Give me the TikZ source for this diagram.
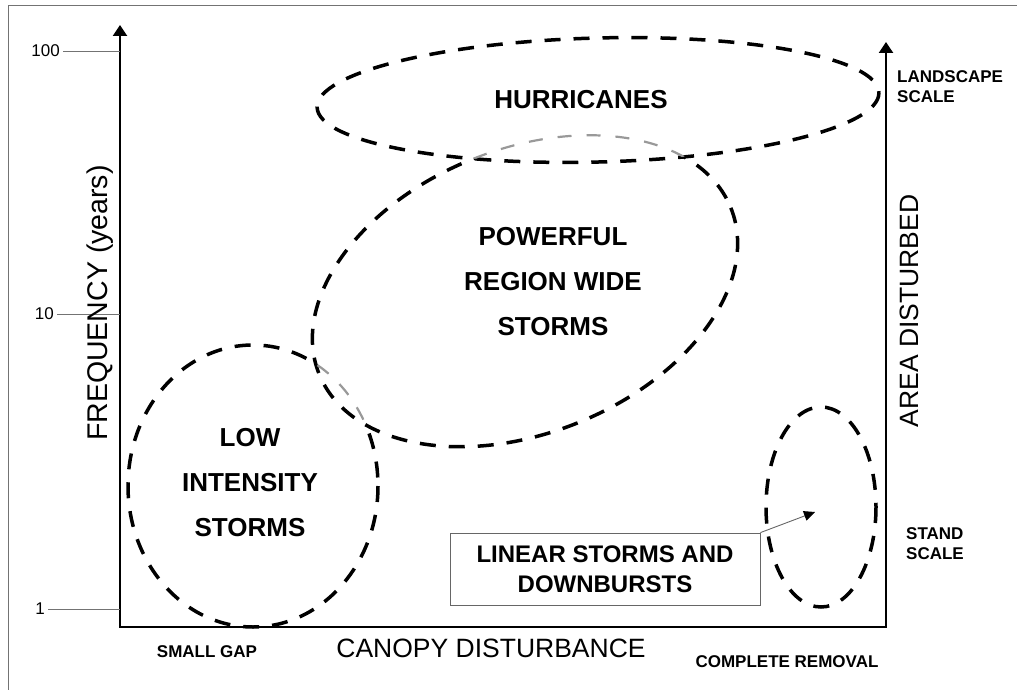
\documentclass[tikz,border=0pt]{standalone}
\usepackage{fontspec}
\setmainfont{Liberation Sans}
\usetikzlibrary{arrows.meta}

\tikzset{
  zone/.style={line width=3.5pt, dash pattern=on 16pt off 13pt},
  faded/.style={line width=2.2pt, dash pattern=on 14pt off 15pt, black!40},
  axis/.style={line width=2.4pt, line join=miter},
  tick/.style={black!55, line width=0.8pt},
  big/.style={font=\fontsize{26}{45}\selectfont\bfseries, align=center},
  small/.style={font=\fontsize{17}{20}\selectfont\bfseries, align=left, inner sep=0pt},
  axlabel/.style={font=\fontsize{26.5}{30}\selectfont},
  numlabel/.style={font=\fontsize{17}{18}\selectfont, anchor=east, inner sep=3pt},
  legendbox/.style={draw=black!60, line width=0.8pt, minimum width=310pt,
    minimum height=72pt, inner sep=0pt, align=center,
    font=\fontsize{24}{30}\selectfont\bfseries},
  pointer/.style={black!60, line width=0.9pt, -{Triangle[length=11pt, width=10pt, color=black]}}
}

\begin{document}
\begin{tikzpicture}[x=1pt, y=-1pt]
  % Parameters (pixel coordinates, y downward)
  \def\hx{598} \def\hy{100}  % hurricanes centre
  \def\px{525} \def\py{291}  % powerful storms centre
  \def\lx{253} \def\ly{486}  % low intensity centre
  \useasboundingbox (0,0) rectangle (1017,690);
  % Frame
  \draw[black!55, line width=0.8pt] (8,690) -- (8,5) -- (1017,5);
  % Axes
  \coordinate (origin) at (120,627);
  \coordinate (ytip) at (120,25);
  \coordinate (xend) at (886,627);
  \coordinate (rtip) at (886,42);
  \draw[axis, {Triangle[length=11pt, width=14pt]}-{Triangle[length=11pt, width=14pt]}]
    (ytip) -- (origin) -- (xend) -- (rtip);
  % Ticks
  \node[numlabel] (t100) at (63,51) {100};
  \node[numlabel] (t10) at (57,314) {10};
  \node[numlabel] (t1) at (48,609) {1};
  \draw[tick] (t100.east) -- (t100.east -| origin);
  \draw[tick] (t10.east) -- (t10.east -| origin);
  \draw[tick] (t1.east) -- (t1.east -| origin);
  % Hurricanes
  \draw[zone, rotate around={1.5:(\hx,\hy)}] (\hx,\hy) ellipse [x radius=281, y radius=62];
  % Powerful storms, faded where inside the hurricanes
  \begin{scope}
    \clip[rotate around={1.5:(\hx,\hy)}] (\hx,\hy) ellipse [x radius=281, y radius=62];
    \draw[faded, rotate around={22:(\px,\py)}] (\px,\py) ellipse [x radius=222, y radius=142];
  \end{scope}
  \begin{scope}[even odd rule]
    \clip[rotate around={1.5:(\hx,\hy)}] (-600,-600) rectangle (1700,1400)
      (\hx,\hy) ellipse [x radius=281, y radius=62];
    \draw[zone, rotate around={22:(\px,\py)}] (\px,\py) ellipse [x radius=222, y radius=142];
  \end{scope}
  % Low intensity storms, faded where inside the powerful storms
  \begin{scope}
    \clip[rotate around={22:(\px,\py)}] (\px,\py) ellipse [x radius=222, y radius=142];
    \draw[faded] (\lx,\ly) ellipse [x radius=125, y radius=141];
  \end{scope}
  \begin{scope}[even odd rule]
    \clip[rotate around={22:(\px,\py)}] (-600,-600) rectangle (1700,1400)
      (\px,\py) ellipse [x radius=222, y radius=142];
    \draw[zone] (\lx,\ly) ellipse [x radius=125, y radius=141];
  \end{scope}
  % Stand scale
  \draw[zone] (821,507) ellipse [x radius=55, y radius=100];
  % Zone labels
  \node[big] (hurr) at (581,100) {HURRICANES};
  \node[big] (power) at (553,282) {POWERFUL\\REGION WIDE\\STORMS};
  \node[big] (low) at (250,483) {LOW\\INTENSITY\\STORMS};
  \node[legendbox] (linear) at (605,569) {LINEAR STORMS AND\\DOWNBURSTS};
  \coordinate (standpt) at (815,512);
  \draw[pointer] (linear.north east) -- (standpt);
  % Axis labels
  \node[axlabel, font=\fontsize{28.5}{30}\selectfont, rotate=90] (freq) at (100,303) {FREQUENCY (years)};
  \node[axlabel, rotate=90] (area) at (909,311) {AREA DISTURBED};
  \node[axlabel] (canopy) at (491,648) {CANOPY DISTURBANCE};
  \node[small] (gap) at (207,652) {SMALL GAP};
  \node[small] (removal) at (787,662) {COMPLETE REMOVAL};
  \node[small, anchor=west] (landscape) at (897,87) {LANDSCAPE\\SCALE};
  \node[small, anchor=west] (stand) at (906,544) {STAND\\SCALE};
\end{tikzpicture}
\end{document}
